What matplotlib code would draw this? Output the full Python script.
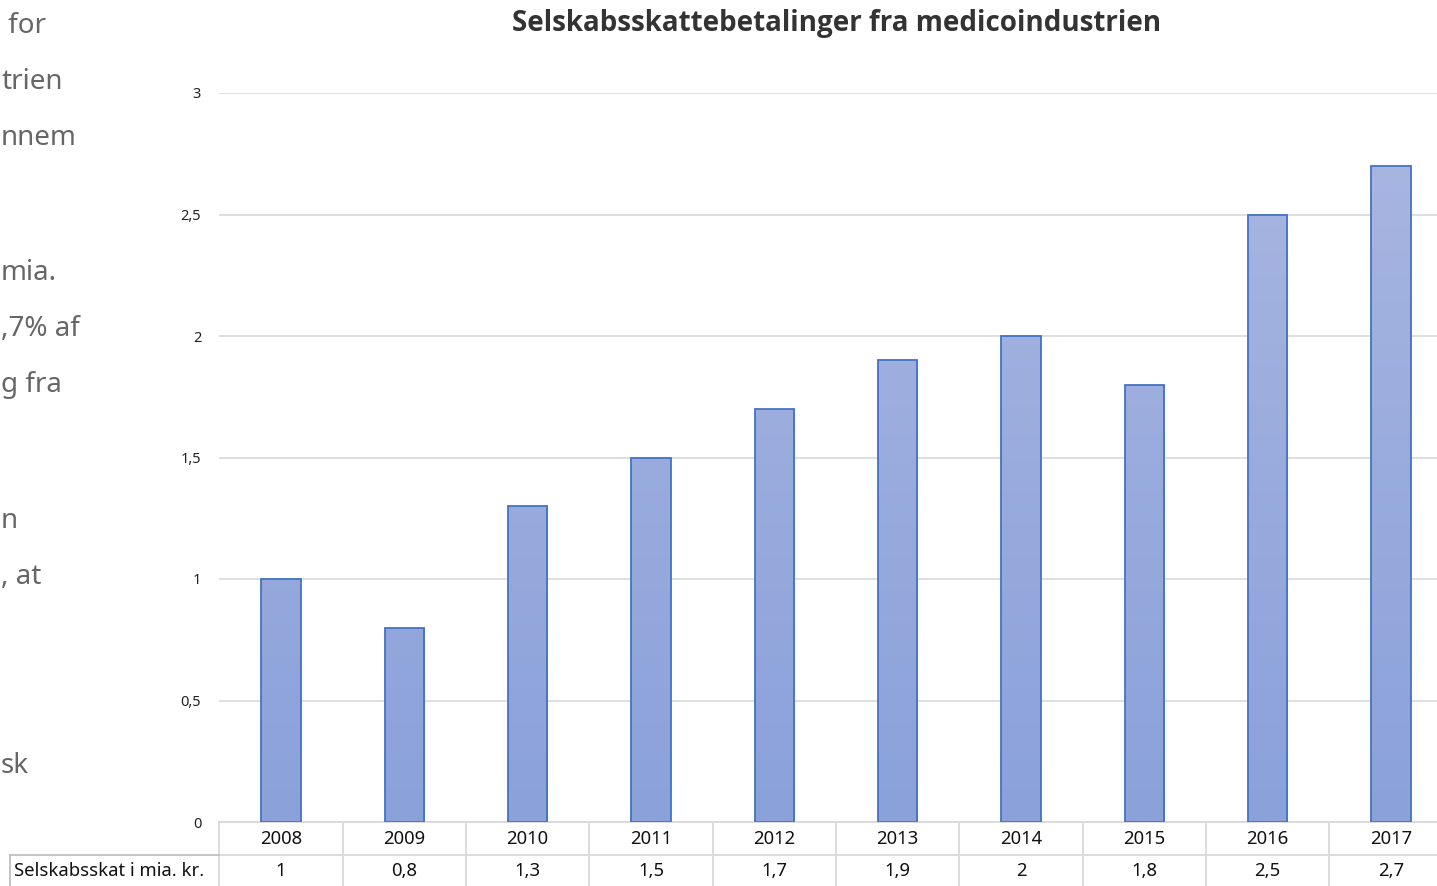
import numpy as np
import matplotlib.pyplot as plt
from matplotlib.transforms import blended_transform_factory

years = ["2008", "2009", "2010", "2011", "2012", "2013", "2014", "2015", "2016", "2017"]
values = [1, 0.8, 1.3, 1.5, 1.7, 1.9, 2, 1.8, 2.5, 2.7]
value_labels = ["1", "0,8", "1,3", "1,5", "1,7", "1,9", "2", "1,8", "2,5", "2,7"]
yticks = [0, 0.5, 1, 1.5, 2, 2.5, 3]
ytick_labels = ["0", "0,5", "1", "1,5", "2", "2,5", "3"]
row_label = "Selskabsskat i mia. kr."
title = "Selskabsskattebetalinger fra medicoindustrien"

# visible bits of the page text left of the chart
side_text = [" for", "trien", "nnem", "mia.", ",7% af", "g fra", "n", ", at", "sk"]
side_y = [23, 79, 135, 270, 326, 382, 518, 574, 763]

W, H = 1437, 886
fig = plt.figure(figsize=(W / 100, H / 100), dpi=100)

x0, x1 = 219.3, 1452.7
y0, y1 = 822, 93
ax = fig.add_axes([x0 / W, (H - y0) / H, (x1 - x0) / W, (y0 - y1) / H])
for s in ax.spines.values():
    s.set_visible(False)

ax.set_yticks(yticks)
ax.set_yticklabels(ytick_labels, fontsize=10.5, color="#222222", family="Noto Sans")
ax.tick_params(axis="y", length=0, pad=13)
ax.set_xticks([])
ax.grid(axis="y", color="#D9D9D9", linewidth=1.2)
ax.set_axisbelow(True)

x = np.arange(len(years))
bars = ax.bar(x, values, width=0.32, color="none", edgecolor="#4472C4",
              linewidth=1.3, zorder=3)

# vertical gradient inside each bar
grad = np.linspace(0, 1, 256).reshape(-1, 1)
cmap = plt.matplotlib.colors.LinearSegmentedColormap.from_list(
    "bar", ["#8AA1DA", "#AAB7E1"])
for b in bars:
    bx, bw = b.get_x(), b.get_width()
    im = ax.imshow(grad, cmap=cmap, aspect="auto", origin="lower",
                   extent=[bx, bx + bw, 0, 3], zorder=2, vmin=0, vmax=1)
    im.set_clip_path(b)
ax.set_xlim(-0.5, len(years) - 0.5)
ax.set_ylim(0, 3)

# data table below the plot
ah = y0 - y1
r1 = -33 / ah
r2 = -64 / ah
tr = blended_transform_factory(ax.transData, ax.transAxes)
lc = "#D9D9D9"
tfont = dict(fontsize=13.3, family="Noto Sans", color="#111111")
ax.plot([-0.5, len(years) - 0.5], [0, 0], transform=tr, color=lc, lw=1.3, clip_on=False)
ax.plot([-0.5, len(years) - 0.5], [r1, r1], transform=tr, color=lc, lw=1.3, clip_on=False)
for i in range(len(years) + 1):
    ax.plot([i - 0.5, i - 0.5], [0, r2], transform=tr, color=lc, lw=1.3, clip_on=False)
for i in range(len(years)):
    ax.text(i, r1 / 2, years[i], transform=tr, ha="center", va="center", **tfont)
    ax.text(i, (r1 + r2) / 2, value_labels[i], transform=tr, ha="center", va="center", **tfont)

# row label cell
fig.add_artist(plt.Line2D([10 / W, x0 / W], [(H - 855) / H] * 2, color="#BFBFBF", lw=1.3))
fig.add_artist(plt.Line2D([10 / W] * 2, [(H - 855) / H, 0], color="#BFBFBF", lw=1.3))
fig.text(14 / W, (H - 871) / H, row_label, ha="left", va="center", **tfont)

fig.text(837 / W, (H - 23) / H, title, ha="center", va="center",
         fontsize=20, fontweight="bold", family="Open Sans", color="#333333")

for t, yy in zip(side_text, side_y):
    fig.text(1 / W, (H - yy - 3) / H, t, ha="left", va="center",
             fontsize=20, family="Noto Sans", color="#666666")

fig.savefig("out.png", dpi=100)
